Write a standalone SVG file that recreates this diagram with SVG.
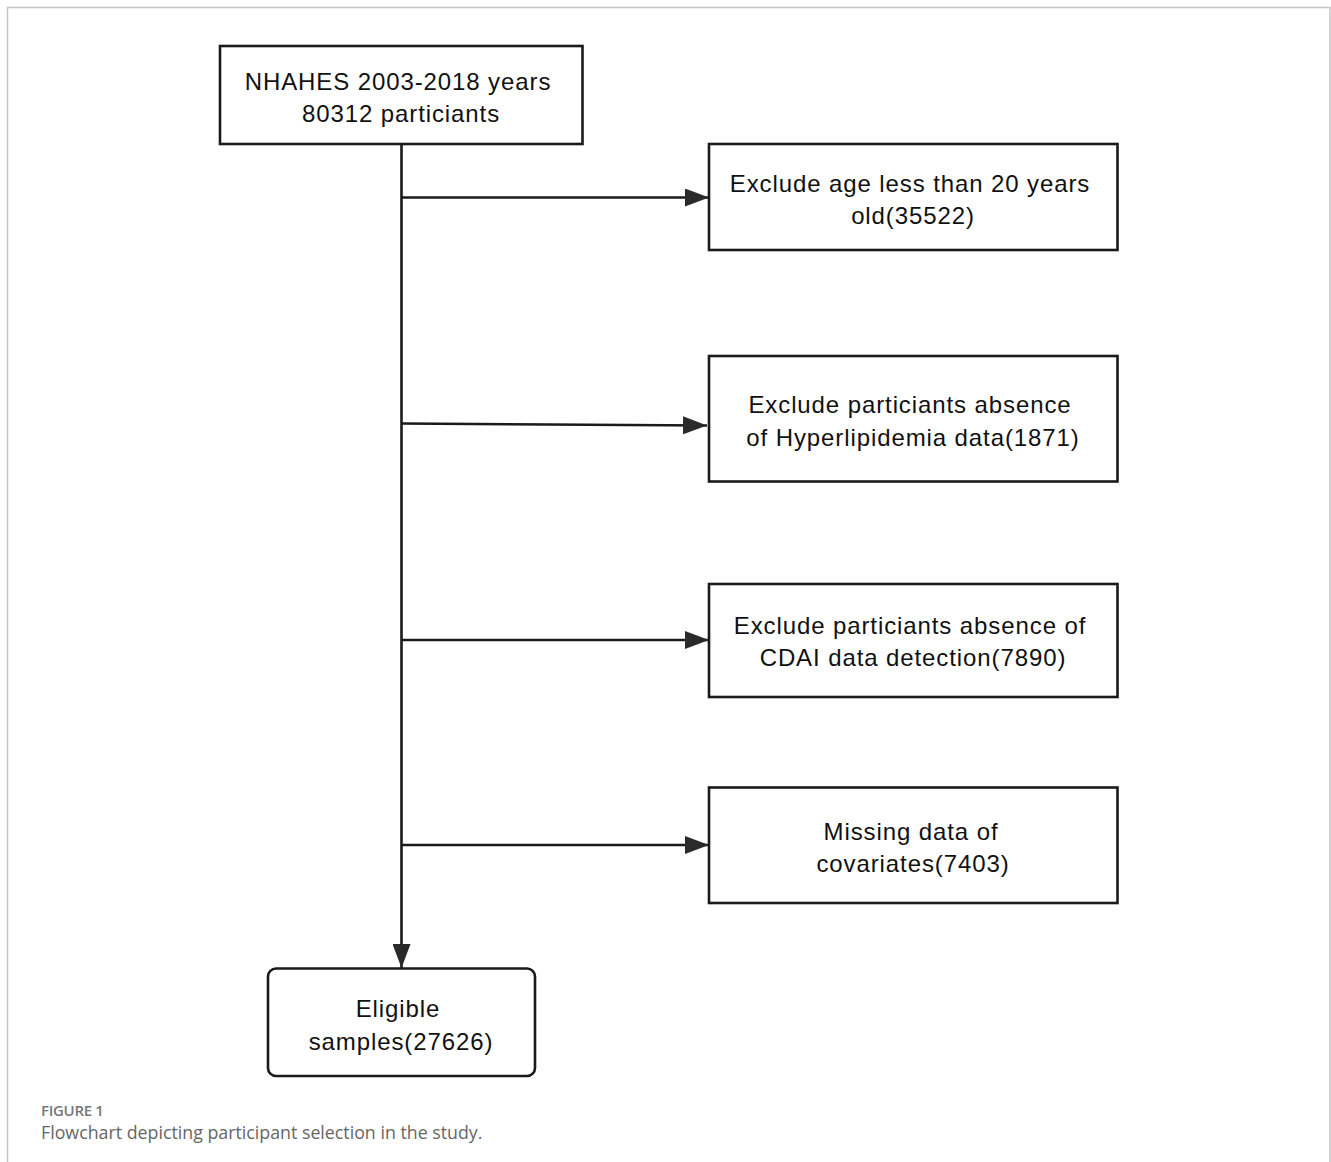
<svg xmlns="http://www.w3.org/2000/svg" width="1331" height="1162" viewBox="0 0 1331 1162">
<style>
.box{fill:#fff;stroke:#1a1a1a;stroke-width:2.6}
.t{font-family:"Liberation Sans",Arial,sans-serif;font-size:24px;letter-spacing:0.9px;fill:#111;text-anchor:middle}
.ln{fill:none;stroke:#1a1a1a;stroke-width:2.6}
.frame{fill:none;stroke:#c4c4c4;stroke-width:1.5}
.cap1{font-family:"Open Sans","Noto Sans",sans-serif;font-size:15px;font-weight:600;letter-spacing:-0.3px;fill:#777}
.cap2{font-family:"Open Sans","Noto Sans",sans-serif;font-size:17.8px;fill:#666}
</style>
<defs>
<marker id="ah" viewBox="0 0 24 18" refX="24" refY="9" markerWidth="24" markerHeight="18" markerUnits="userSpaceOnUse" orient="auto">
<path d="M0,0 L24,9 L0,18 Z" fill="#2a2a2a"/>
</marker>
</defs>
<rect width="1331" height="1162" fill="#fff"/>
<path class="frame" d="M7.5,1162 V7.5 H1330 V1162"/>

<g id="connectors">
<line class="ln" x1="401.5" y1="144" x2="401.5" y2="968" marker-end="url(#ah)"/>
<line class="ln" x1="401.5" y1="197.5" x2="709" y2="197.5" marker-end="url(#ah)"/>
<line class="ln" x1="401.5" y1="423.5" x2="707" y2="425.5" marker-end="url(#ah)"/>
<line class="ln" x1="401.5" y1="640" x2="709" y2="640" marker-end="url(#ah)"/>
<line class="ln" x1="401.5" y1="845" x2="709" y2="845" marker-end="url(#ah)"/>
</g>

<g id="n_start">
<rect class="box" x="220" y="46" width="362.5" height="98"/>
<text class="t" x="398" y="90">NHAHES 2003-2018 years</text>
<text class="t" x="401" y="122">80312 particiants</text>
</g>

<g id="n_age">
<rect class="box" x="709" y="144" width="408.5" height="106"/>
<text class="t" x="910" y="191.5">Exclude age less than 20 years</text>
<text class="t" x="913" y="223.5">old(35522)</text>
</g>

<g id="n_hyper">
<rect class="box" x="709" y="356" width="408.5" height="125.5"/>
<text class="t" x="910" y="413">Exclude particiants absence</text>
<text class="t" x="913" y="445.5">of Hyperlipidemia data(1871)</text>
</g>

<g id="n_cdai">
<rect class="box" x="709" y="584" width="408.5" height="113"/>
<text class="t" x="910" y="634">Exclude particiants absence of</text>
<text class="t" x="913" y="666">CDAI data detection(7890)</text>
</g>

<g id="n_cov">
<rect class="box" x="709" y="787.5" width="408.5" height="115.5"/>
<text class="t" x="911" y="839.5">Missing data of</text>
<text class="t" x="913" y="871.5">covariates(7403)</text>
</g>

<g id="n_eligible">
<rect class="box" x="268" y="968.5" width="267" height="107.5" rx="8" ry="8"/>
<text class="t" x="398" y="1017">Eligible</text>
<text class="t" x="401" y="1049.5">samples(27626)</text>
</g>

<text class="cap1" x="41" y="1115.5">FIGURE 1</text>
<text class="cap2" x="41" y="1139">Flowchart depicting participant selection in the study.</text>
</svg>
